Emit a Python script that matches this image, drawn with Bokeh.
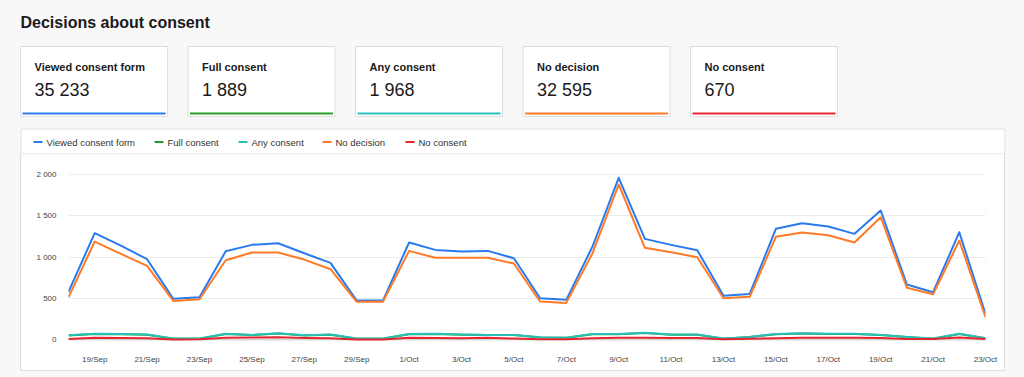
from bokeh.plotting import figure
from bokeh.models import Range1d, FixedTicker, Spacer, GlobalInlineStyleSheet, ColumnDataSource, Span
from bokeh.layouts import column, row
from bokeh.core.properties import value
from bokeh.embed import file_html
from bokeh.resources import INLINE

# ---------------- data ----------------
dates = [f"{d}/Sep" for d in range(18, 31)] + [f"{d}/Oct" for d in range(1, 24)]
series_names = ["Viewed consent form", "Full consent", "Any consent", "No decision", "No consent"]
series_colors = ["#2a7aef", "#2a9d2a", "#26c0b8", "#ff7a26", "#e5262e"]
card_totals = [35233, 1889, 1968, 32595, 670]

viewed = [580, 1290, 1140, 975, 496, 515, 1072, 1149, 1169, 1048, 931, 475, 475, 1177, 1088, 1068, 1076, 987,
          504, 484, 1129, 1960, 1221, 1149, 1084, 532, 556, 1343, 1411, 1371, 1282, 1564, 669, 576, 1302, 314]
full_consent = [53, 72, 68, 62, 14, 14, 72, 58, 77, 53, 62, 14, 14, 68, 72, 62, 58, 58,
                28, 24, 67, 68, 82, 62, 62, 14, 33, 67, 77, 72, 72, 58, 33, 14, 72, 19]
any_consent = [55, 75, 70, 65, 15, 15, 75, 60, 80, 55, 65, 15, 15, 70, 75, 65, 60, 60,
               30, 25, 70, 70, 85, 65, 65, 15, 35, 70, 80, 75, 75, 60, 35, 15, 75, 20]
no_decision = [515, 1189, 1040, 895, 471, 491, 963, 1056, 1056, 971, 854, 460, 460, 1076, 992, 992, 992, 923,
               463, 447, 1048, 1879, 1113, 1060, 1000, 504, 520, 1246, 1298, 1266, 1177, 1483, 629, 552, 1201, 274]
no_consent = [10, 25, 22, 20, 5, 8, 25, 28, 30, 22, 18, 5, 5, 25, 22, 18, 25, 15,
              8, 8, 20, 25, 25, 22, 22, 8, 12, 20, 25, 25, 25, 22, 10, 10, 28, 10]

y_ticks = [0, 500, 1000, 1500, 2000]
y_tick_labels = ["0", "500", "1 000", "1 500", "2 000"]

# ---------------- styles ----------------
BG = "#f8f8f8"
BORDER = "#dddddd"
FONT = value("Liberation Sans")
W = 1024
HH = 154

# ---------------- header (title, cards, legend strip) ----------------
head = figure(width=W, height=HH, x_range=Range1d(0, W), y_range=Range1d(HH, 0),
              x_axis_type=None, y_axis_type=None, toolbar_location=None, output_backend="svg",
              min_border=0, outline_line_color=None, background_fill_color=BG,
              border_fill_color=BG, title=None)

head.text(x=[20], y=[22], text=["Decisions about consent"], text_font=FONT,
          text_font_style="bold", text_font_size="16px", text_baseline="middle",
          text_color="#1a1a1a")

n = len(series_names)
card_l = [20 + i * 167.5 for i in range(n)]
card_r = [l + 147 for l in card_l]
head.quad(left=card_l, right=card_r, top=46, bottom=116, fill_color="white",
          line_color=BORDER, line_width=1)
head.quad(left=[l + 2 for l in card_l], right=[r - 2 for r in card_r], top=112, bottom=114,
          fill_color=series_colors, line_color=None)
head.text(x=[l + 14 for l in card_l], y=[66] * n, text=series_names, text_font=FONT,
          text_font_style="bold", text_font_size="11px", text_baseline="middle",
          text_color="#1a1a1a")
head.text(x=[l + 14 for l in card_l], y=[89] * n,
          text=[f"{v:,}".replace(",", " ") for v in card_totals], text_font=FONT,
          text_font_size="18px", text_baseline="middle", text_color="#1a1a1a")

# chart panel top part with legend
head.quad(left=[20], right=[1005], top=[128], bottom=[155], fill_color="white", line_color=None)
head.segment(x0=[20.5, 20.5, 1004.5, 20.5], y0=[128.5, 128.5, 128.5, 153.5],
             x1=[1004.5, 20.5, 1004.5, 1004.5], y1=[128.5, 154, 154, 153.5],
             line_color=BORDER, line_width=1)
leg_x = [33, 154, 238, 322, 405]
head.segment(x0=leg_x, y0=[141.5] * n, x1=[x + 9 for x in leg_x], y1=[141.5] * n,
             line_color=series_colors, line_width=2)
head.text(x=[x + 13 for x in leg_x], y=[141.5] * n, text=series_names, text_font=FONT,
          text_font_size="9.5px", text_baseline="middle", text_color="#333333")

# ---------------- plot ----------------
PW, PH = 983, 216
p = figure(width=PW, height=PH, x_range=Range1d(0, len(dates) - 1), y_range=Range1d(-20, 2012),
           toolbar_location=None, output_backend="svg", title=None,
           min_border_left=47, min_border_right=19, min_border_top=19, min_border_bottom=29,
           outline_line_color=None, background_fill_color="white", border_fill_color="white")

src = ColumnDataSource(dict(x=list(range(len(dates))), date=dates, viewed=viewed,
                            full=full_consent, any=any_consent, nodec=no_decision, nocon=no_consent))
p.add_layout(Span(location=0, dimension="width", line_color="#cccccc", line_width=1, level="underlay"))
for col, color in zip(["viewed", "full", "any", "nodec", "nocon"], series_colors):
    p.line(x="x", y=col, source=src, line_color=color, line_width=2, line_join="round")

xt = list(range(1, len(dates), 2))
p.xaxis.ticker = FixedTicker(ticks=xt)
p.xaxis.major_label_overrides = {i: dates[i] for i in xt}
p.yaxis.ticker = FixedTicker(ticks=y_ticks)
p.yaxis.major_label_overrides = dict(zip(y_ticks, y_tick_labels))
for ax in (p.xaxis, p.yaxis):
    ax.axis_line_color = None
    ax.major_tick_line_color = None
    ax.minor_tick_line_color = None
    ax.major_label_text_font = "Liberation Sans"
    ax.major_label_text_font_size = "8px"
    ax.major_label_text_color = "#444444"
p.xaxis.major_label_standoff = 7
p.yaxis.major_label_standoff = 6
p.xgrid.visible = False
p.ygrid.grid_line_color = "#ebebeb"

bd = {"background-color": BORDER}
plot_row = row(Spacer(width=20, height=PH),
               Spacer(width=1, height=PH, styles=bd),
               p,
               Spacer(width=1, height=PH, styles=bd))
bottom_row = row(Spacer(width=20, height=1), Spacer(width=PW + 2, height=1, styles=bd))
layout = column(head, plot_row, bottom_row,
                stylesheets=[GlobalInlineStyleSheet(css="body{background:#f8f8f8;}")])

open("out.html", "w").write(file_html(layout, INLINE))
